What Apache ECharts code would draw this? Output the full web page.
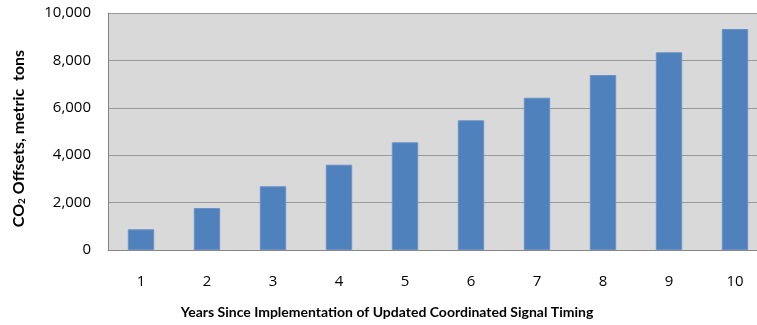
<!DOCTYPE html>
<html>
<head>
<meta charset="utf-8">
<script src="https://cdn.jsdelivr.net/npm/echarts@6/dist/echarts.min.js"></script>
<style>
  html, body { margin: 0; padding: 0; background: #ffffff; }
  #chart { width: 757px; height: 325px; }
</style>
</head>
<body>
<div id="chart"></div>
<script>
// Years since the coordinated signal timing update
const years = ['1', '2', '3', '4', '5', '6', '7', '8', '9', '10'];
// Cumulative CO2 offsets, metric tons
const co2Offsets = [873, 1772, 2688, 3600, 4544, 5472, 6426, 7384, 8342, 9325];
// Value axis range
const yMin = 0;
const yMax = 10000;
const yStep = 2000;

const TICK_FONT = 'Open Sans';
const TITLE_FONT = 'Lato';

const chart = echarts.init(document.getElementById('chart'), null, { renderer: 'canvas' });

chart.setOption({
  animation: false,
  backgroundColor: '#ffffff',
  grid: {
    left: 108,
    top: 13,
    width: 660,
    height: 237,
    containLabel: false,
    outerBoundsMode: 'none',
    show: true,
    backgroundColor: '#d9d9d9',
    borderWidth: 0
  },
  xAxis: {
    type: 'category',
    data: years,
    name: 'Years Since Implementation of Updated Coordinated Signal Timing',
    nameLocation: 'middle',
    nameGap: 55,
    nameTextStyle: {
      fontFamily: TITLE_FONT, fontSize: 14, fontWeight: 'bold', color: '#000000',
      padding: [0, 102, 0, 0]
    },
    axisLine: { show: true, lineStyle: { color: '#868686', width: 1 } },
    axisTick: { show: false },
    axisLabel: { fontFamily: TICK_FONT, fontSize: 15, color: '#000000', margin: 24 },
    splitLine: { show: false }
  },
  yAxis: {
    type: 'value',
    min: yMin,
    max: yMax,
    interval: yStep,
    name: '{b|CO}{sub|2}{b| Offsets, metric  tons}',
    nameLocation: 'middle',
    nameGap: 81,
    nameRotate: 90,
    nameTextStyle: {
      fontFamily: TITLE_FONT,
      color: '#000000',
      padding: [0, 14, 0, 0],
      rich: {
        b: { fontFamily: TITLE_FONT, fontSize: 16, fontWeight: 'bold', color: '#000000' },
        sub: { fontFamily: TITLE_FONT, fontSize: 10, fontWeight: 'bold', color: '#000000', verticalAlign: 'bottom', padding: [6, 0, 0, 0] }
      }
    },
    axisLine: { show: true, lineStyle: { color: '#868686', width: 1 } },
    axisTick: { show: false },
    axisLabel: {
      fontFamily: TICK_FONT,
      fontSize: 15,
      color: '#000000',
      margin: 17,
      formatter: v => v.toLocaleString('en-US')
    },
    splitLine: { show: true, lineStyle: { color: '#999999', width: 1 } }
  },
  series: [{
    type: 'bar',
    data: co2Offsets,
    barWidth: '40%',
    itemStyle: { color: '#4f81bd', borderColor: '#6a92c6', borderWidth: 1 }
  }]
});
</script>
</body>
</html>
